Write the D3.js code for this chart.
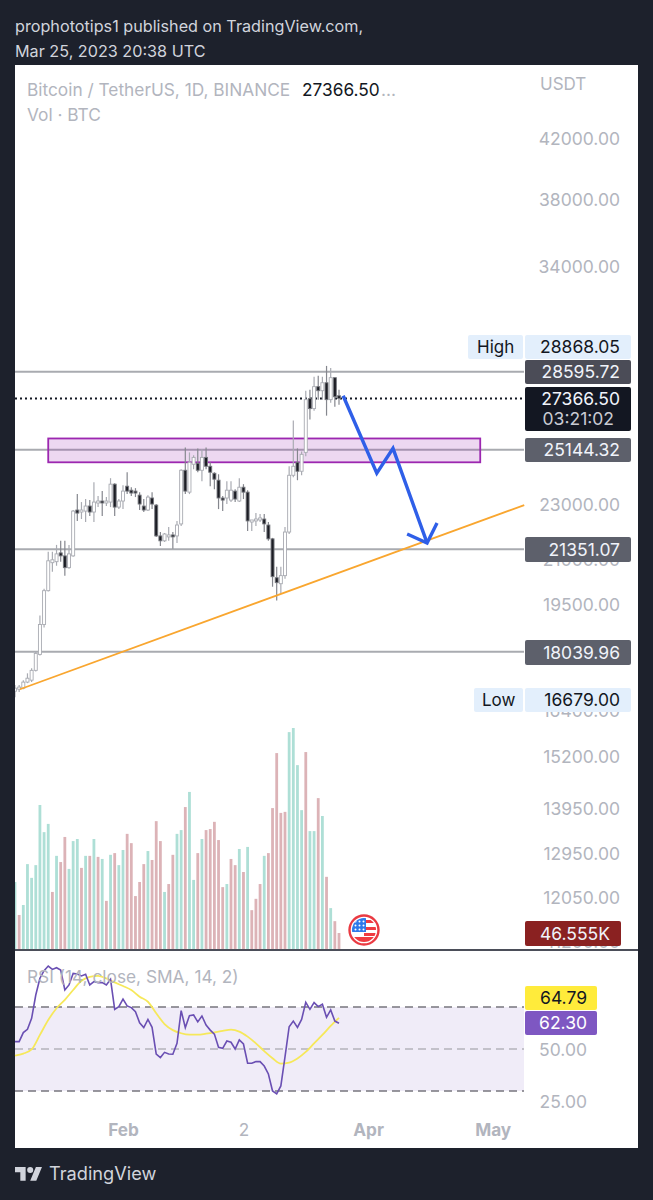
<!DOCTYPE html>
<html><head><meta charset="utf-8">
<script src="https://cdn.jsdelivr.net/npm/d3@7/dist/d3.min.js"></script>
<style>html,body{margin:0;padding:0;background:#1d212c}svg{display:block}text{font-family:Inter,"Noto Sans",sans-serif}</style>
</head><body><div id="chart"></div>
<script>
// ---------- data ----------
const firstDay = Date.UTC(2023,0,6);
const opens =[16905,16960,16990,17160,17215,17495,17960,18865,19945,20885,20920,21225,21120,20715,21120,22775,22700,22735,22925,22700,23040,23115,23040,23075,23765,22885,23115,23685,23530,23495,23340,22925,22775,23230,22960,21825,21650,21790,21860,21825,22260,24315,23455,24555,24595,24315,24835,24475,24195,23920,23230,23230,23150,23495,23115,23645,23455,22330,22370,22405,22440,22220,21720,20375,20175,20445,21965,24115,24635,24275,25040,27355,26910,27900,27715,28080,27310,28315,27485];
const highs =[17075,17075,17215,17410,17555,18050,19145,20010,21260,21260,21505,21650,21650,21505,22775,23380,23075,23190,23150,23840,23305,23495,23265,24000,23805,23190,23725,24235,23645,23610,23455,23190,23340,23455,23000,21965,21930,22150,21965,22370,24355,25245,25040,24920,25205,25165,25245,24635,24235,24155,23305,23880,23880,23570,24000,23765,23530,22405,22660,22625,22625,22330,21755,20750,20750,22150,24475,26385,25205,25080,27715,27760,28360,28410,28360,28868,28775,28315,27760];
const lows  =[16740,16880,16960,17130,17160,17465,17930,18775,19915,20580,20780,20920,20445,20680,21090,22370,22440,22330,22550,22330,22885,22550,22925,22885,22550,22810,22810,23380,23305,23265,22775,22700,22735,22810,21790,21470,21610,21650,21365,21575,22185,23380,23380,24355,24235,23880,24355,23685,23570,22810,22735,23000,23075,23075,23075,23190,22005,22005,22185,22330,21965,21650,20075,19625,19850,20340,21895,24040,23920,24115,24880,26430,26820,27310,27310,26600,27175,26995,27085];
const closes=[16990,17020,17160,17270,17495,17990,18865,19945,20950,20985,21190,21120,20715,21190,22735,22660,22775,22925,22700,23075,23115,23040,23115,23765,22885,23115,23495,23495,23420,23420,23000,22775,23265,23000,21825,21650,21895,21860,21790,22220,24315,23495,24635,24835,24315,24835,24475,24235,23960,23230,23150,23530,23530,23190,23645,23455,22370,22405,22440,22480,22260,21720,20410,20210,20445,21965,24115,24475,24275,24960,27310,26910,27900,27715,28080,27310,28315,27440,27366.5];
const volumes=[195,99,128,247,207,244,419,340,364,166,271,253,326,233,314,320,236,271,271,320,268,262,140,274,279,244,288,335,308,154,195,247,285,259,372,314,166,189,274,335,346,413,457,201,279,320,346,349,370,317,180,189,262,244,291,224,297,113,146,189,271,279,410,570,396,399,631,643,535,404,573,343,343,439,387,210,119,81,46.555];
const volumeUp=[1,0,1,1,1,1,1,1,1,0,1,0,0,1,1,1,0,1,0,1,0,1,0,1,0,1,1,0,0,0,0,0,1,0,0,0,1,0,0,1,1,0,1,1,0,1,0,0,0,0,0,1,0,0,1,0,1,0,0,0,1,0,0,0,0,0,1,1,1,1,0,1,1,0,1,0,1,0,0].map(Boolean);
const rsiValues=[53.5,53.5,57.8,59.4,64.6,75.7,83.7,87.3,89.5,87.9,88.7,87.6,78.1,80.5,86,85.7,84.8,85.6,80.5,82.1,81.6,81.6,80.5,83.2,68.9,70.2,73.8,70.5,69.7,67.8,62.5,60.2,64.1,60.3,47.6,45.9,48.4,47.6,47.5,52.7,68.3,60.2,65.9,66.2,62.9,65.7,61.4,59,57.1,50.8,50.3,53.8,53.2,50,54.3,52.4,43.2,43.2,44,44,41.9,38.1,30,28.6,32.4,46.3,60.6,63.3,60.3,64.1,72.2,68.9,72.1,70.2,71.3,65.1,68.6,63.3,62.3];
// smoothed RSI, read at every second session
const smaValues=[46.8,47.8,49.8,56.7,63.8,69.4,73.4,78.1,82.5,84.4,84.8,83.6,81.7,80,78.1,74.9,72.5,67,61.9,59,57.5,56.8,56.8,57.3,57.9,58.6,59.2,58.3,55.9,52.7,49,45.6,43,43.5,45.5,48.6,52.7,56.7,61,64.79];
const levels=[28595.72,25144.32,21351.07,18039.96];
const lastPrice=27366.50;
const zoneTop=25620, zoneBottom=24635;
const zoneDays=[8,112];
const trendDays=[1.2,122.6], trendPrices=[16960,22960];
const arrowDays=[79,87.1,91,99.2], arrowPrices=[27485,24195,25205,21575];
const headDays=[94.4,99.2,101.6], headPrices=[21895,21575,22295];
const priceTicks=[42000,38000,34000,23000,21000,19500,16400,15200,13950,12950,12050,11200];
const rsiTicks=[50,25];
const rsiBands=[70,50,30];
const timeTicks=[Date.UTC(2023,1,1),Date.UTC(2023,2,2),Date.UTC(2023,3,1),Date.UTC(2023,4,1)];
const timeLabels=["Feb","2","Apr","May"];

// ---------- layout ----------
const W=653,H=1200,L=15,R=638,AX=524,T=65,B=1148,FS=17.5;
const svg=d3.select("#chart").append("svg").attr("width",W).attr("height",H);
const day=i=>new Date(firstDay+i*864e5);
const x=d3.scaleUtc().domain([day(0),day(78)]).range([L,339]);
const xd=i=>x(day(i));
const y=d3.scaleLog().domain([12050,42000]).range([897,138]);
const yVol=d3.scaleLinear().domain([0,643]).range([949,728]);
const yRsi=d3.scaleLinear().domain([25,50]).range([1101.5,1049]);

const bg="#1d212c", axisC="#b2b5be";
svg.append("rect").attr("width",W).attr("height",H).attr("fill",bg);
svg.append("rect").attr("x",L).attr("y",T).attr("width",R-L).attr("height",B-T).attr("fill","#fff");
svg.append("clipPath").attr("id","plot").append("rect").attr("x",L).attr("y",T).attr("width",AX-L).attr("height",B-T);

// header
const txt=(s,xx,yy,size,fill,opt={})=>svg.append("text").attr("x",xx).attr("y",yy).attr("dy",".36em")
  .attr("font-size",size).attr("fill",fill).attr("text-anchor",opt.a||"start").attr("font-weight",opt.w||400).text(s);
txt("prophototips1 published on TradingView.com,",15,26.5,16.2,"#d1d4dc");
txt("Mar 25, 2023 20:38 UTC",15,51,16.2,"#d1d4dc");

// volume
svg.append("g").attr("clip-path","url(#plot)").selectAll("rect").data(volumes).join("rect")
  .attr("x",(d,i)=>xd(i)-1.4).attr("width",2.8)
  .attr("y",d=>yVol(d)).attr("height",d=>yVol(0)-yVol(d))
  .attr("fill",(d,i)=>volumeUp[i]?"#aedfd6":"#dcb3b7");

// price axis labels (drawn under the boxes)
const axisP=d3.axisRight(y).tickValues(priceTicks).tickFormat(d3.format(".2f")).tickSize(0).tickPadding(0);
const gP=svg.append("g").attr("transform","translate(620,0.8)").call(axisP);
gP.select(".domain").remove();
gP.selectAll("text").attr("text-anchor","end").attr("font-size",FS).attr("fill",axisC).attr("font-family","Inter").attr("x",0);
txt("USDT",540,84,17,axisC);

// levels
svg.append("g").selectAll("line").data(levels).join("line")
  .attr("x1",L).attr("x2",AX).attr("y1",d=>y(d)).attr("y2",d=>y(d))
  .attr("stroke","#a9abb0").attr("stroke-width",2);

// zone
svg.append("rect").attr("x",xd(zoneDays[0])).attr("width",xd(zoneDays[1])-xd(zoneDays[0]))
  .attr("y",y(zoneTop)).attr("height",y(zoneBottom)-y(zoneTop))
  .attr("fill","#9c27b0").attr("fill-opacity",.18).attr("stroke","#9c27b0").attr("stroke-width",1.8);

// last-price dotted
svg.append("line").attr("x1",L).attr("x2",AX).attr("y1",y(lastPrice)).attr("y2",y(lastPrice))
  .attr("stroke","#131722").attr("stroke-width",2).attr("stroke-dasharray","2 3");

// candles
const candles=svg.append("g").attr("clip-path","url(#plot)");
opens.forEach((o,i)=>{
  const c=closes[i],up=c>=o,cx=xd(i);
  candles.append("line").attr("x1",cx).attr("x2",cx).attr("y1",y(highs[i])).attr("y2",y(lows[i]))
    .attr("stroke",up?"#a9abb2":"#85878e").attr("stroke-width",1.2);
  candles.append("rect").attr("x",cx-1.5).attr("width",3)
    .attr("y",y(Math.max(o,c))).attr("height",Math.max(1,Math.abs(y(o)-y(c))))
    .attr("fill",up?"#fff":"#1c1d24").attr("stroke",up?"#a9abb2":"#77797f").attr("stroke-width",.9);
});

// trend line
svg.append("line").attr("x1",xd(trendDays[0])).attr("x2",xd(trendDays[1]))
  .attr("y1",y(trendPrices[0])).attr("y2",y(trendPrices[1]))
  .attr("stroke","#f9a62f").attr("stroke-width",1.8);

// arrow
const ln=d3.line().x(d=>xd(d[0])).y(d=>y(d[1]));
svg.append("path").attr("d",ln(d3.zip(arrowDays,arrowPrices))).attr("fill","none")
  .attr("stroke","#2f5fe8").attr("stroke-width",3.4).attr("stroke-linejoin","miter");
svg.append("path").attr("d",ln(d3.zip(headDays,headPrices))).attr("fill","none")
  .attr("stroke","#2f5fe8").attr("stroke-width",3.4);

// header legend
txt("Bitcoin / TetherUS, 1D, BINANCE",27,90,17.3,axisC);
txt("27366.50",302,90,17.3,"#131722");
txt("...",381,90,17.3,axisC);
txt("Vol · BTC",27,115,17.3,axisC);

// boxes
function box(x0,x1,y0,y1,fill,r=2){svg.append("rect").attr("x",x0).attr("y",y0).attr("width",x1-x0).attr("height",y1-y0).attr("rx",r).attr("fill",fill);}
const VX0=525,VX1=631,VT=620;
box(468,523,335,359,"#e3effc"); box(VX0,VX1,335,359,"#e3effc");
txt("High",477,346.5,17,"#131722"); txt("28868.05",VT,347,FS,"#131722",{a:"end"});
box(VX0,VX1,360,384,"#4b4c57"); txt("28595.72",VT,372,FS,"#f0f3fa",{a:"end"});
box(VX0,VX1,387,431,"#131722"); txt("27366.50",VT,398.5,FS,"#f0f3fa",{a:"end"}); txt("03:21:02",VT-6,419,FS,"#c9cbd3",{a:"end"});
box(VX0,VX1,438,462,"#5d606b"); txt("25144.32",VT,450,FS,"#f0f3fa",{a:"end"});
box(VX0,VX1,537,562,"#5d606b"); txt("21351.07",VT,549.5,FS,"#f0f3fa",{a:"end"});
box(VX0,VX1,640,665,"#5d606b"); txt("18039.96",VT,652.5,FS,"#f0f3fa",{a:"end"});
box(474,523,688,712,"#e3effc"); box(VX0,VX1,688,712,"#e3effc");
txt("Low",482,700,17,"#131722"); txt("16679.00",VT,700,FS,"#131722",{a:"end"});
box(VX0,621,921,946,"#8a2121"); txt("46.555K",610,933.5,FS,"#f0f3fa",{a:"end"});

// flag icon
const fx=364,fy=930;
const clip=svg.append("clipPath").attr("id","fc"); clip.append("circle").attr("cx",fx).attr("cy",fy).attr("r",12);
const flag=svg.append("g").attr("clip-path","url(#fc)");
flag.append("rect").attr("x",fx-13).attr("y",fy-13).attr("width",26).attr("height",26).attr("fill","#fff");
[[-10,3],[-3,3],[3,3]].forEach(([a,h])=>flag.append("rect").attr("x",fx).attr("y",fy+a).attr("width",13).attr("height",h).attr("fill","#ef3b42"));
flag.append("rect").attr("x",fx-13).attr("y",fy+7).attr("width",26).attr("height",5).attr("fill","#ef3b42");
flag.append("rect").attr("x",fx-13).attr("y",fy-13).attr("width",15).attr("height",15).attr("fill","#2e79ea");
for(let a=0;a<3;a++)for(let b=0;b<3;b++)flag.append("circle").attr("cx",fx-8.5+a*4).attr("cy",fy-8.5+b*4).attr("r",1).attr("fill","#fff");
svg.append("circle").attr("cx",fx).attr("cy",fy).attr("r",14.5).attr("fill","none").attr("stroke","#ea3a42").attr("stroke-width",2.4);

// separator
svg.append("rect").attr("x",L).attr("y",949).attr("width",R-L).attr("height",2).attr("fill","#4b4e59");

// RSI panel
svg.append("rect").attr("x",L).attr("width",AX-L).attr("y",yRsi(rsiBands[0])).attr("height",yRsi(rsiBands[2])-yRsi(rsiBands[0])).attr("fill","#f0ecf8");
svg.append("g").selectAll("line").data(rsiBands).join("line")
  .attr("x1",L).attr("x2",AX).attr("y1",d=>yRsi(d)).attr("y2",d=>yRsi(d))
  .attr("stroke",(d,i)=>i==1?"#b4b3bb":"#77767e").attr("stroke-width",1.6).attr("stroke-dasharray","8 5");
const lnR=d3.line().x((d,i)=>xd(i)).y(d=>yRsi(d));
svg.append("path").attr("d",d3.line().x((d,i)=>xd(i*2)).y(d=>yRsi(d)).curve(d3.curveMonotoneX)(smaValues))
  .attr("fill","none").attr("stroke","#f6e85a").attr("stroke-width",1.8);
svg.append("path").attr("d",lnR(rsiValues)).attr("fill","none").attr("stroke","#6a4fb3").attr("stroke-width",1.6);
txt("RSI (14, close, SMA, 14, 2)",27,977,17.3,axisC);
box(VX0,597,986,1010,"#ffeb3b"); txt("64.79",587,998,FS,"#131722",{a:"end"});
box(VX0,597,1011,1035,"#7e57c2"); txt("62.30",587,1023,FS,"#fff",{a:"end"});
const axisR=d3.axisRight(yRsi).tickValues(rsiTicks).tickFormat(d3.format(".2f")).tickSize(0).tickPadding(0);
const gR=svg.append("g").attr("transform","translate(587,0.4)").call(axisR);
gR.select(".domain").remove();
gR.selectAll("text").attr("text-anchor","end").attr("font-size",FS).attr("fill",axisC).attr("font-family","Inter").attr("x",0);

// time axis
const axisT=d3.axisBottom(x).tickValues(timeTicks.map(t=>new Date(t))).tickFormat((d,i)=>timeLabels[i]).tickSize(0).tickPadding(0);
const gT=svg.append("g").attr("transform","translate(0,1123.5)").call(axisT);
gT.select(".domain").remove();
gT.selectAll("text").attr("font-size",17.2).attr("fill",axisC).attr("font-family","Inter").attr("font-weight",(d,i)=>i==1?400:700);

// footer
const logo=svg.append("g").attr("transform","translate(15,1164) scale(.76)").attr("fill","#d1d4dc");
logo.append("path").attr("d","M14 22H7V11H0V4h14v18zM28 22h-8l7.5-18h8L28 22z");
logo.append("circle").attr("cx",20).attr("cy",8).attr("r",4);
txt("TradingView",49,1173,18.2,"#d1d4dc");
</script></body></html>
